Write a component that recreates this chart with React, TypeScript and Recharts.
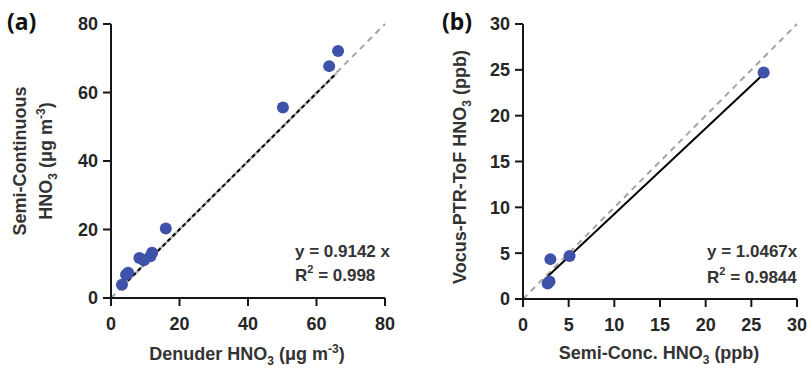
import React from 'react';
import { ReferenceLine, Scatter, ScatterChart, XAxis, YAxis } from 'recharts';

// panel (a): denuder vs semi-continuous HNO3 (µg m-3)
const denuderX = [3.2, 4.4, 5.0, 8.3, 9.6, 11.5, 12.0, 16.0, 50.2, 63.7, 66.3];
const semiContY = [3.9, 6.8, 7.4, 11.7, 11.0, 12.2, 13.2, 20.3, 55.6, 67.7, 72.1];
const fitAX = [3.5, 65.8];
const fitAY = [3.6, 65.6];
const ticksA = [0, 20, 40, 60, 80];

// panel (b): semi-conc vs Vocus-PTR-ToF HNO3 (ppb)
const semiConcX = [3.0, 5.1, 2.7, 2.9, 26.35];
const vocusY = [4.35, 4.7, 1.7, 1.9, 24.7];
const fitBX = [2.75, 26.2];
const fitBY = [2.5, 24.4];
const ticksB = [0, 5, 10, 15, 20, 25, 30];

const C = {
  dot: '#3e52a9',
  axis: '#161616',
  tick: '#262626',
  title: '#333333',
  oneToOne: '#a3a3a3',
};

const FONT = '"Liberation Sans", Arial, sans-serif';

const tickStyle = { fill: C.tick, fontSize: 18, fontWeight: 700, fontFamily: FONT };

const Dot = (p: any) => <circle cx={p.cx} cy={p.cy} r={6} fill={C.dot} />;

const zip = (xs: number[], ys: number[]) => xs.map((x, i) => ({ x, y: ys[i] }));

function Panel({
  width,
  margin,
  max,
  ticks,
  points,
  fit,
  fitDashed,
}: {
  width: number;
  margin: { top: number; right: number; bottom: number; left: number };
  max: number;
  ticks: number[];
  points: { x: number; y: number }[];
  fit: { x: number; y: number }[];
  fitDashed: boolean;
}) {
  return (
    <ScatterChart width={width} height={375} margin={margin}>
      <XAxis
        type="number"
        dataKey="x"
        domain={[0, max]}
        ticks={ticks}
        allowDataOverflow
        height={30}
        tick={tickStyle}
        tickSize={8}
        tickMargin={11}
        axisLine={{ stroke: C.axis, strokeWidth: 2 }}
        tickLine={{ stroke: C.axis, strokeWidth: 2 }}
      />
      <YAxis
        type="number"
        dataKey="y"
        domain={[0, max]}
        ticks={ticks}
        allowDataOverflow
        width={60}
        tick={tickStyle}
        tickSize={8}
        tickMargin={5}
        axisLine={{ stroke: C.axis, strokeWidth: 2 }}
        tickLine={{ stroke: C.axis, strokeWidth: 2 }}
      />
      <ReferenceLine
        segment={[{ x: 0, y: 0 }, { x: max, y: max }]}
        stroke={C.oneToOne}
        strokeWidth={2}
        strokeDasharray="6 5"
      />
      {fitDashed && <ReferenceLine segment={fit} stroke="#b5b5b5" strokeWidth={2.5} />}
      <ReferenceLine
        segment={fit}
        stroke="#000"
        strokeWidth={2}
        strokeDasharray={fitDashed ? '4 3' : undefined}
      />
      <Scatter data={points} shape={Dot} isAnimationActive={false} />
    </ScatterChart>
  );
}

const Sub = ({ t }: { t: string }) => (
  <>
    <tspan dy={5} fontSize={12}>{t}</tspan>
    <tspan dy={-5}> </tspan>
  </>
);

export default function App() {
  const titleProps = { fill: C.title, fontSize: 18, fontWeight: 700, fontFamily: FONT, textAnchor: 'middle' as const };
  const noteProps = { fill: C.title, fontSize: 17, fontWeight: 700, fontFamily: FONT };
  return (
    <div style={{ position: 'absolute', left: 0, top: 0, width: 807, height: 375, background: '#fff' }}>
      <div style={{ position: 'absolute', left: 0, top: 0 }}>
        <Panel
          width={400}
          margin={{ top: 24, right: 15, bottom: 47, left: 51 }}
          max={80}
          ticks={ticksA}
          points={zip(denuderX, semiContY)}
          fit={zip(fitAX, fitAY)}
          fitDashed
        />
      </div>
      <div style={{ position: 'absolute', left: 400, top: 0 }}>
        <Panel
          width={407}
          margin={{ top: 24, right: 10, bottom: 46, left: 63 }}
          max={30}
          ticks={ticksB}
          points={zip(semiConcX, vocusY)}
          fit={zip(fitBX, fitBY)}
          fitDashed={false}
        />
      </div>
      <svg
        width={807}
        height={375}
        style={{ position: 'absolute', left: 0, top: 0, pointerEvents: 'none' }}
      >
        <text x={7} y={30} fontSize={23} fontWeight={700} fontFamily='"Noto Sans", sans-serif' fill="#111">(a)</text>
        <text x={442} y={30} fontSize={23} fontWeight={700} fontFamily='"Noto Sans", sans-serif' fill="#111">(b)</text>

        {/* panel (a) axis titles */}
        <text {...titleProps} transform="rotate(-90 26 161)" x={26} y={161}>Semi-Continuous</text>
        <text {...titleProps} transform="rotate(-90 52 161)" x={52} y={161}>
          HNO<Sub t="3" />(μg m<tspan dy={-7} fontSize={12}>-3</tspan><tspan dy={7}>)</tspan>
        </text>
        <text {...titleProps} x={247} y={360}>
          Denuder HNO<Sub t="3" />(μg m<tspan dy={-7} fontSize={12}>-3</tspan><tspan dy={7}>)</tspan>
        </text>

        {/* panel (b) axis titles */}
        <text {...titleProps} transform="rotate(-90 466 167)" x={466} y={167}>
          Vocus-PTR-ToF HNO<Sub t="3" />(ppb)
        </text>
        <text {...titleProps} x={659} y={359}>
          Semi-Conc. HNO<Sub t="3" />(ppb)
        </text>

        {/* fit annotations */}
        <text {...noteProps} x={295} y={257}>y = 0.9142 x</text>
        <text {...noteProps} x={295} y={281}>
          R<tspan dy={-8} fontSize={11}>2</tspan><tspan dy={8}> = 0.998</tspan>
        </text>
        <text {...noteProps} x={707} y={257}>y = 1.0467x</text>
        <text {...noteProps} x={707} y={283}>
          R<tspan dy={-8} fontSize={11}>2</tspan><tspan dy={8}> =  0.9844</tspan>
        </text>
      </svg>
    </div>
  );
}
